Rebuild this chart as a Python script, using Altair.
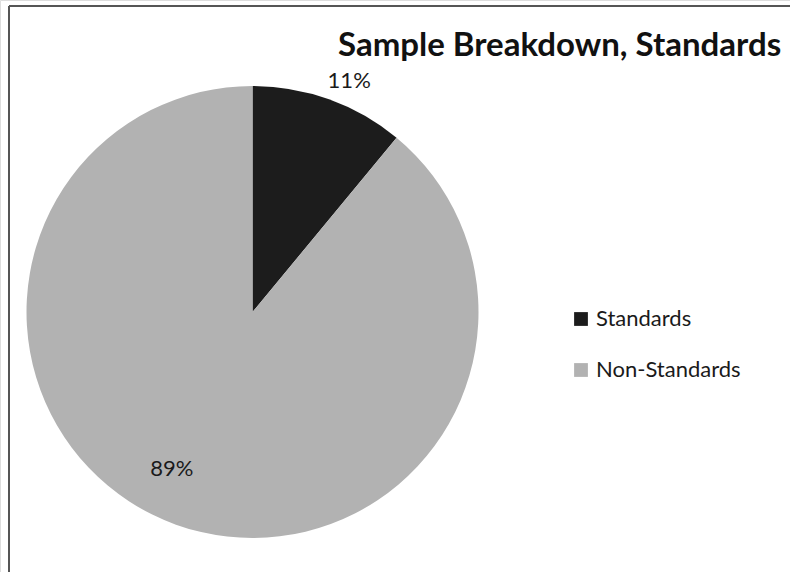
import altair as alt
import pandas as pd

# Sample composition
categories = ["Standards", "Non-Standards"]
shares = [11, 89]
labels = ["11%", "89%"]
slice_colors = ["#1c1c1c", "#b2b2b2"]

df = pd.DataFrame({
    "category": categories,
    "share": shares,
    "label": labels,
    "order": list(range(len(categories))),
})

CX, CY, R = 252.5, 312, 226
FONT = "Lato"

base = alt.Chart(df).encode(
    theta=alt.Theta("share:Q", stack=True),
    order=alt.Order("order:Q"),
    x=alt.value(CX),
    y=alt.value(CY),
)

pie = base.mark_arc(outerRadius=R, stroke=None).encode(
    color=alt.Color(
        "category:N",
        scale=alt.Scale(domain=categories, range=slice_colors),
        sort=categories,
        legend=alt.Legend(
            title=None,
            orient="none",
            legendX=570,
            legendY=308,
            symbolType="square",
            symbolSize=190,
            symbolStrokeWidth=0,
            labelFont=FONT,
            labelFontSize=22,
            labelColor="#1a1a1a",
            labelOffset=4,
            rowPadding=29,
            padding=0,
        ),
    )
)

# Percentage labels, one layer per slice so each can be nudged
lab_std = base.transform_calculate(
    shown="datum.category == 'Standards' ? datum.label : ''"
).mark_text(radius=250, font=FONT, fontSize=22, color="#1a1a1a", dx=12, dy=4).encode(
    text="shown:N"
)
lab_non = base.transform_calculate(
    shown="datum.category == 'Non-Standards' ? datum.label : ''"
).mark_text(radius=176, font=FONT, fontSize=22, color="#1a1a1a", dx=-21, dy=-9).encode(
    text="shown:N"
)

title = alt.Chart(pd.DataFrame({"t": ["Sample Breakdown, Standards"]})).mark_text(
    font=FONT, fontSize=33, fontWeight="bold", color="#111111",
    align="left", baseline="alphabetic",
).encode(text="t:N", x=alt.value(338), y=alt.value(56))

# Chart frame (top and left edges)
frame_top = alt.Chart(df).mark_rule(color="#555555", strokeWidth=2).encode(
    x=alt.value(9), x2=alt.value(790), y=alt.value(6)
)
frame_left = alt.Chart(df).mark_rule(color="#555555", strokeWidth=2).encode(
    x=alt.value(9), y=alt.value(6), y2=alt.value(572)
)

chart = alt.layer(frame_top, frame_left, pie, lab_std, lab_non, title).properties(
    width=790, height=572,
    autosize=alt.AutoSizeParams(type="none"),
    padding=0,
).configure_view(stroke=None).configure(background="white")

chart.save("out.html", embed_options={"renderer": "svg", "actions": False})
